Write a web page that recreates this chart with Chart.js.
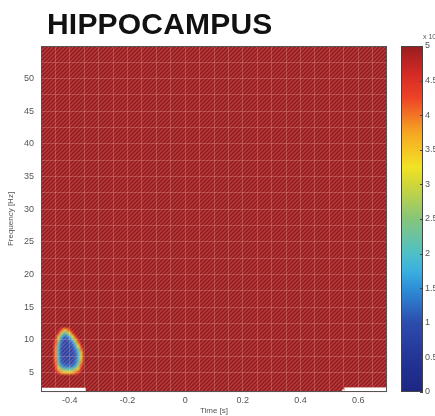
<!DOCTYPE html>
<html>
<head>
<meta charset="utf-8">
<script src="https://cdn.jsdelivr.net/npm/chart.js@4.4.1/dist/chart.umd.min.js"></script>
<style>
  html, body { margin: 0; padding: 0; background: #fff; }
  #wrap { position: relative; width: 435px; height: 416px; }
  #title {
    position: absolute; left: 47px; top: 9px;
    font: bold 30px "Liberation Sans", Arial, sans-serif;
    line-height: 30px; color: #111; letter-spacing: 0.2px;
  }
  canvas { position: absolute; left: 0; top: 0; }
</style>
</head>
<body>
<div id="wrap">
  <canvas id="tf-chart" width="435" height="416"></canvas>
  <div id="title">HIPPOCAMPUS</div>
</div>
<script>
/* Hippocampus time-frequency map */

// axis ranges and ticks
const timeRange = [-0.5, 0.7];
const freqRange = [2, 55];
const timeTicks = [-0.4, -0.2, 0, 0.2, 0.4, 0.6];
const freqTicks = [5, 10, 15, 20, 25, 30, 35, 40, 45, 50];
const cbarTicks = [0, 0.5, 1, 1.5, 2, 2.5, 3, 3.5, 4, 4.5, 5];
const cbarRange = [0, 5];

// whole field sits at the top of the colour scale
const fieldValue = 5;

// low-power patch around -0.4 s / 8 Hz
const patchTimes = [-0.46, -0.45, -0.44, -0.43, -0.42, -0.41, -0.40, -0.39, -0.38, -0.37, -0.36, -0.35, -0.34];
const patchFreqs = [12, 11.5, 11, 10.5, 10, 9.5, 9, 8.5, 8, 7.5, 7, 6.5, 6, 5.5, 5, 4.5];
const patchValues = [
    [5, 5,   5,   5,   5,   5,   5,   5,   5,   5,   5,   5, 5],
    [5, 5,   5,   4.3, 3.6, 3.8, 4.5, 5,   5,   5,   5,   5, 5],
    [5, 5,   4.6, 3.0, 2.2, 2.4, 3.3, 4.5, 5,   5,   5,   5, 5],
    [5, 5,   3.6, 2.0, 1.3, 1.4, 2.0, 3.2, 4.6, 5,   5,   5, 5],
    [5, 4.6, 2.8, 1.4, 1.0, 1.0, 1.3, 2.2, 3.6, 4.8, 5,   5, 5],
    [5, 4.3, 2.3, 1.2, 0.9, 0.9, 1.0, 1.5, 2.6, 4.0, 5,   5, 5],
    [5, 4.1, 2.0, 1.1, 0.9, 0.8, 0.9, 1.1, 1.8, 3.2, 4.6, 5, 5],
    [5, 4.0, 1.9, 1.0, 0.8, 0.8, 0.8, 1.0, 1.4, 2.4, 4.0, 5, 5],
    [5, 4.0, 1.9, 1.0, 0.8, 0.7, 0.8, 0.9, 1.2, 2.0, 3.6, 5, 5],
    [5, 4.0, 1.9, 1.0, 0.8, 0.7, 0.8, 0.9, 1.1, 1.9, 3.5, 5, 5],
    [5, 4.1, 2.0, 1.1, 0.9, 0.8, 0.8, 0.9, 1.2, 2.0, 3.6, 5, 5],
    [5, 4.2, 2.2, 1.2, 1.0, 0.9, 0.9, 1.0, 1.3, 2.3, 3.9, 5, 5],
    [5, 4.4, 2.7, 1.6, 1.3, 1.2, 1.2, 1.3, 1.7, 2.8, 4.3, 5, 5],
    [5, 4.7, 3.5, 2.6, 2.2, 2.1, 2.1, 2.3, 2.8, 3.6, 4.7, 5, 5],
    [5, 5,   4.4, 3.8, 3.5, 3.4, 3.4, 3.6, 4.0, 4.5, 5,   5, 5],
    [5, 5,   5,   5,   5,   5,   5,   5,   5,   5,   5,   5, 5]
];

// masked (no data) strips along the lowest frequencies
const maskStart = [-0.5, 0.545, 0.552];
const maskEnd = [-0.345, 0.552, 0.7];
const maskTop = [2.65, 2.4, 2.7];

// jet-like colour map
const colorStops = [
    [0, [29, 39, 131]], [0.5, [35, 53, 150]], [1, [44, 76, 174]], [1.5, [46, 143, 216]],
    [1.75, [59, 176, 224]], [2, [78, 192, 200]], [2.5, [134, 197, 122]], [3, [207, 214, 58]],
    [3.25, [242, 227, 36]], [3.75, [246, 166, 35]], [4.25, [238, 67, 38]], [4.6, [212, 42, 37]],
    [5, [152, 28, 30]]
];

function colorAt(v) {
    if (v <= colorStops[0][0]) return colorStops[0][1];
    for (let i = 1; i < colorStops.length; i++) {
        const [v1, c1] = colorStops[i];
        const [v0, c0] = colorStops[i - 1];
        if (v <= v1) {
            const k = (v - v0) / (v1 - v0);
            return c0.map((c, j) => Math.round(c + (c1[j] - c) * k));
        }
    }
    return colorStops[colorStops.length - 1][1];
}
const rgb = c => `rgb(${c[0]},${c[1]},${c[2]})`;

function hatchPattern(ctx) {
    const p = document.createElement('canvas');
    p.width = 4; p.height = 4;
    const g = p.getContext('2d');
    g.strokeStyle = 'rgba(255,160,160,0.30)';
    g.lineWidth = 1.1;
    g.beginPath();
    g.moveTo(-1, 5); g.lineTo(5, -1);
    g.moveTo(-1, 1); g.lineTo(1, -1);
    g.moveTo(3, 5); g.lineTo(5, 3);
    g.stroke();
    return ctx.createPattern(p, 'repeat');
}

const heatmapPlugin = {
    id: 'heatmap',
    beforeDatasetsDraw(chart) {
        const { ctx, chartArea: a, scales: { x, y } } = chart;
        ctx.save();
        ctx.beginPath();
        ctx.rect(a.left, a.top, a.width, a.height);
        ctx.clip();

        // field
        ctx.fillStyle = rgb(colorAt(fieldValue));
        ctx.fillRect(x.getPixelForValue(timeRange[0]), y.getPixelForValue(freqRange[1]),
            x.getPixelForValue(timeRange[1]) - x.getPixelForValue(timeRange[0]),
            y.getPixelForValue(freqRange[0]) - y.getPixelForValue(freqRange[1]));

        // patch, smoothed like the original interpolated map
        const cols = patchTimes.length, rows = patchFreqs.length;
        const off = document.createElement('canvas');
        off.width = cols; off.height = rows;
        const og = off.getContext('2d');
        const img = og.createImageData(cols, rows);
        patchValues.forEach((row, r) => row.forEach((v, c) => {
            const col = colorAt(v), k = (r * cols + c) * 4;
            img.data[k] = col[0]; img.data[k + 1] = col[1]; img.data[k + 2] = col[2]; img.data[k + 3] = 255;
        }));
        og.putImageData(img, 0, 0);
        const dt = (patchTimes[1] - patchTimes[0]) / 2;
        const df = (patchFreqs[0] - patchFreqs[1]) / 2;
        const px0 = x.getPixelForValue(patchTimes[0] - dt);
        const px1 = x.getPixelForValue(patchTimes[cols - 1] + dt);
        const py0 = y.getPixelForValue(patchFreqs[0] + df);
        const py1 = y.getPixelForValue(patchFreqs[rows - 1] - df);
        ctx.imageSmoothingEnabled = true;
        ctx.imageSmoothingQuality = 'high';
        ctx.drawImage(off, px0, py0, px1 - px0, py1 - py0);

        // texture of the printed map
        ctx.fillStyle = hatchPattern(ctx);
        ctx.fillRect(a.left, a.top, a.width, a.height);

        // masked strips
        ctx.fillStyle = '#ffffff';
        maskStart.forEach((t0, i) => {
            const l = x.getPixelForValue(t0), r = x.getPixelForValue(maskEnd[i]);
            const top = y.getPixelForValue(maskTop[i]), bot = y.getPixelForValue(freqRange[0]);
            ctx.fillRect(l, top, r - l, bot - top);
        });
        ctx.restore();
    },
    afterDraw(chart) {
        const { ctx, chartArea: a, scales: { cb } } = chart;
        ctx.save();
        ctx.strokeStyle = '#555';
        ctx.lineWidth = 1;
        ctx.strokeRect(a.left + 0.5, a.top + 0.5, a.width - 1, a.height - 1);

        // colour bar
        const top = cb.getPixelForValue(cbarRange[1]), bot = cb.getPixelForValue(cbarRange[0]);
        const left = a.right + 14, w = 22;
        const grad = ctx.createLinearGradient(0, bot, 0, top);
        colorStops.forEach(([v, c]) => grad.addColorStop((v - cbarRange[0]) / (cbarRange[1] - cbarRange[0]), rgb(c)));
        ctx.fillStyle = grad;
        ctx.fillRect(left, top, w, bot - top);
        ctx.strokeStyle = '#444';
        ctx.strokeRect(left + 0.5, top + 0.5, w - 1, bot - top - 1);
        ctx.beginPath();
        cbarTicks.forEach(v => {
            const py = Math.round(cb.getPixelForValue(v)) + 0.5;
            ctx.moveTo(left + w - 3, py); ctx.lineTo(left + w, py);
        });
        ctx.stroke();

        ctx.fillStyle = '#555';
        ctx.font = '7px "Liberation Sans", Arial, sans-serif';
        ctx.textBaseline = 'alphabetic';
        ctx.fillText('x 10\u2074', left + 22, top - 7);
        ctx.restore();
    }
};

const tickFont = { family: '"Liberation Sans", Arial, sans-serif', size: 9 };
const noVertPad = s => { s.paddingTop = 0; s.paddingBottom = 0; };

new Chart(document.getElementById('tf-chart'), {
    type: 'scatter',
    data: { datasets: [] },
    plugins: [heatmapPlugin],
    options: {
        responsive: false,
        animation: false,
        layout: { padding: { left: 0, top: 46, right: 0, bottom: 0 } },
        plugins: { legend: { display: false }, tooltip: { enabled: false } },
        scales: {
            x: {
                type: 'linear', position: 'bottom',
                min: timeRange[0], max: timeRange[1],
                afterBuildTicks: s => { s.ticks = timeTicks.map(v => ({ value: v })); },
                afterFit: s => { s.height = 24; s.paddingLeft = 0; s.paddingRight = 0; },
                grid: { display: false, drawTicks: false },
                border: { display: false },
                ticks: { font: tickFont, color: '#555', padding: 3, maxRotation: 0, callback: v => String(v) },
                title: { display: true, text: 'Time [s]', font: { family: tickFont.family, size: 8 }, color: '#555', padding: 0 }
            },
            xg: {
                type: 'linear', position: 'bottom',
                min: timeRange[0], max: timeRange[1],
                afterFit: s => { s.height = 0; },
                ticks: { display: false, stepSize: 0.05 },
                grid: { z: 1, color: 'rgba(255,205,205,0.22)', lineWidth: 1, drawTicks: false },
                border: { display: false }
            },
            y: {
                type: 'linear', position: 'left',
                min: freqRange[0], max: freqRange[1],
                afterBuildTicks: s => { s.ticks = freqTicks.map(v => ({ value: v })); },
                afterFit: s => { s.width = 41; noVertPad(s); },
                grid: { display: false, drawTicks: false },
                border: { display: false },
                ticks: { font: tickFont, color: '#555', padding: 7 },
                title: { display: true, text: 'Frequency [Hz]', font: { family: tickFont.family, size: 8 }, color: '#555', padding: { top: 6, bottom: 0 } }
            },
            yg: {
                type: 'linear', position: 'left',
                min: freqRange[0], max: freqRange[1],
                afterFit: s => { s.width = 0; noVertPad(s); },
                ticks: { display: false, stepSize: 2.5 },
                grid: { z: 1, color: 'rgba(255,205,205,0.22)', lineWidth: 1, drawTicks: false },
                border: { display: false }
            },
            cb: {
                type: 'linear', position: 'right',
                min: cbarRange[0], max: cbarRange[1],
                afterBuildTicks: s => { s.ticks = cbarTicks.map(v => ({ value: v })); },
                afterFit: s => { s.width = 48; noVertPad(s); },
                grid: { display: false, drawTicks: false },
                border: { display: false },
                ticks: { font: tickFont, color: '#555', padding: 38, callback: v => String(v) }
            }
        }
    }
});
</script>
</body>
</html>
